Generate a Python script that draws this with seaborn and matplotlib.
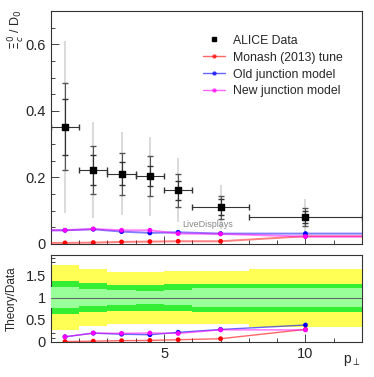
import numpy as np
import pandas as pd
import matplotlib
matplotlib.use("Agg")
import matplotlib.pyplot as plt
import seaborn as sns
from matplotlib.ticker import MultipleLocator

# ── data ──
bin_edges = [1, 2, 3, 4, 5, 6, 8, 12]
pt_centers = [1.5, 2.5, 3.5, 4.5, 5.5, 7.0, 10.0]
alice_val = [0.352, 0.222, 0.211, 0.203, 0.161, 0.110, 0.081]
alice_stat = [0.084, 0.044, 0.035, 0.030, 0.028, 0.024, 0.017]
alice_tot = [0.131, 0.072, 0.063, 0.060, 0.049, 0.035, 0.026]
alice_wide = [0.258, 0.144, 0.124, 0.119, 0.096, 0.066, 0.053]

monash = [0.003, 0.004, 0.006, 0.007, 0.008, 0.008, 0.023]
old_junction = [0.041, 0.044, 0.037, 0.033, 0.035, 0.031, 0.031]
new_junction = [0.041, 0.045, 0.041, 0.041, 0.031, 0.030, 0.022]

model_names = ["Monash (2013) tune", "Old junction model", "New junction model"]
model_colors = ["#ff0000", "#0000ff", "#ff00ff"]

sns.set_style("ticks")
plt.rcParams["font.family"] = ["Liberation Sans", "DejaVu Sans"]
plt.rcParams["font.size"] = 8.5
plt.rcParams["xtick.direction"] = "in"
plt.rcParams["ytick.direction"] = "in"

fig = plt.figure(figsize=(3.74, 3.77), dpi=100)
ax = fig.add_axes([0.136, 0.353, 0.832, 0.618])
axr = fig.add_axes([0.136, 0.093, 0.832, 0.231])

x = np.array(pt_centers)
edges = np.array(bin_edges)
xerr = np.vstack([x - edges[:-1], edges[1:] - x])
val = np.array(alice_val)

rows = []
for name, vals in zip(model_names, [monash, old_junction, new_junction]):
    for xc, v, d in zip(x, vals, val):
        rows.append({"pt": xc, "y": v, "ratio": v / d, "model": name})
df = pd.DataFrame(rows)
pal = dict(zip(model_names, model_colors))

# ── top panel ──
ax.errorbar(x, val, yerr=alice_wide, fmt="none", ecolor="#d8d8d8", lw=1.3, zorder=1)
ax.errorbar(x, val, yerr=alice_tot, fmt="none", ecolor="#555555", lw=0.8,
            capsize=2.5, zorder=2)
ax.errorbar(x, val, yerr=alice_stat, xerr=xerr, fmt="none", ecolor="#333333",
            lw=0.8, capsize=2.5, zorder=2)
ax.scatter(x, val, marker="s", s=19, color="black", zorder=5, label="ALICE Data")

for name, col in zip(model_names, model_colors):
    sub = df[df["model"] == name]
    ax.plot(np.r_[edges[0], sub["pt"], edges[-1]],
            np.r_[sub["y"].iloc[0], sub["y"], sub["y"].iloc[-1]],
            color=col, lw=1.4, alpha=0.5, zorder=3)
sns.scatterplot(data=df, x="pt", y="y", hue="model", palette=pal, s=12,
                edgecolor="none", legend=False, ax=ax, zorder=4)

ax.set_xlim(1, 12)
ax.set_ylim(0, 0.7)
ax.xaxis.set_major_locator(MultipleLocator(5))
ax.xaxis.set_minor_locator(MultipleLocator(1))
ax.yaxis.set_major_locator(MultipleLocator(0.2))
ax.yaxis.set_minor_locator(MultipleLocator(0.05))
ax.set_yticks([0, 0.2, 0.4, 0.6], ["0", "0.2", "0.4", "0.6"])
ax.tick_params(axis="x", labelbottom=False)
ax.tick_params(which="major", length=6, width=0.6, labelsize=10.5)
ax.tick_params(which="minor", length=3, width=0.6)
ax.set_xlabel("")
ax.set_ylabel("")
fig.text(0.018, 0.975, r"$\Xi_c^0$ / D$_0$", rotation=90, ha="left", va="top",
         fontsize=9)
ax.text(5.66, 0.046, "LiveDisplays", color="#888888", fontsize=6.5, va="bottom")

# legend
handles = [plt.Line2D([], [], ls="none", marker="s", ms=3.5, color="black")]
for col in model_colors:
    handles.append(plt.Line2D([], [], color=col, lw=1.0, alpha=0.6,
                              marker="o", ms=2.2, mfc=col, mec=col))
ax.legend(handles, ["ALICE Data"] + model_names, loc="upper left",
          bbox_to_anchor=(0.455, 0.945), frameon=False, fontsize=8.8,
          handlelength=1.8, handletextpad=0.6, labelspacing=0.4)

# ── ratio panel ──
rel_wide = np.array(alice_wide) / val
rel_tot = np.array(alice_tot) / val
rel_stat = np.array(alice_stat) / val
axr.stairs(1 + rel_wide, edges, baseline=1 - rel_wide, fill=True,
           color="#ffff55", lw=0, zorder=1)
axr.stairs(1 + rel_tot, edges, baseline=1 - rel_tot, fill=True,
           color="#33ee33", lw=0, zorder=2)
axr.stairs(1 + rel_stat, edges, baseline=1 - rel_stat, fill=True,
           color="#99ff99", lw=0, zorder=3)
axr.axhline(1, color="#666666", lw=0.8, zorder=4)

for name, col in zip(model_names, model_colors):
    sub = df[df["model"] == name]
    axr.plot(sub["pt"], sub["ratio"], color=col, lw=1.0, alpha=0.6, zorder=5)
sns.scatterplot(data=df, x="pt", y="ratio", hue="model", palette=pal, s=12,
                edgecolor="none", legend=False, ax=axr, zorder=6)

axr.set_xlim(1, 12)
axr.set_ylim(0, 1.97)
axr.xaxis.set_major_locator(MultipleLocator(5))
axr.xaxis.set_minor_locator(MultipleLocator(1))
axr.set_yticks([0, 0.5, 1, 1.5], ["0", "0.5", "1", "1.5"])
axr.yaxis.set_minor_locator(MultipleLocator(0.1))
axr.tick_params(which="major", length=6, width=0.6, labelsize=10.5)
axr.tick_params(which="minor", length=3, width=0.6)
axr.set_xlabel("")
axr.set_ylabel("Theory/Data", fontsize=8.5, labelpad=6)
fig.text(0.965, 0.025, r"p$_\perp$", ha="right", va="bottom", fontsize=10)

for a in (ax, axr):
    for s in a.spines.values():
        s.set_linewidth(0.8)
        s.set_color("#333333")
        s.set_visible(True)

fig.savefig("out.png", dpi=100)
